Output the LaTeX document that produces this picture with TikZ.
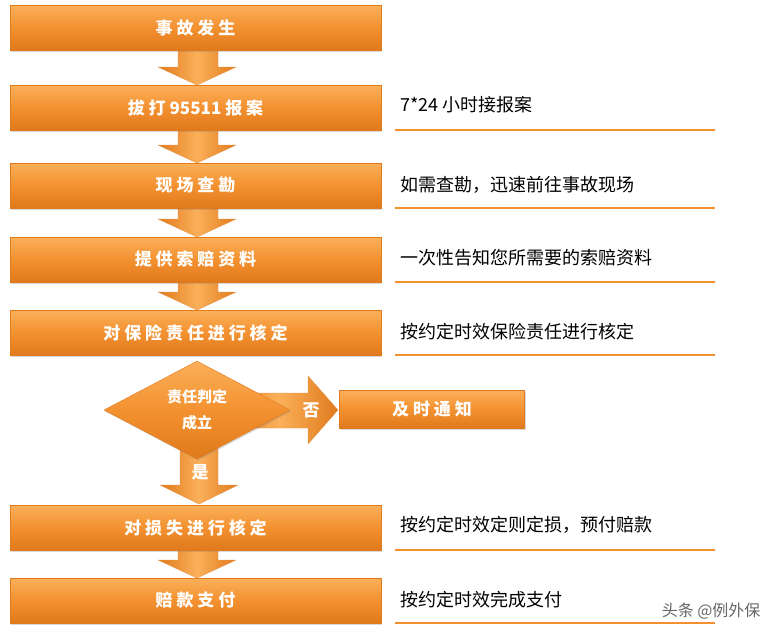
\documentclass[tikz,border=0pt]{standalone}
\usepackage{fontspec}
\setmainfont{Noto Sans CJK SC}
\usetikzlibrary{shapes.geometric,shadows}
\definecolor{org}{HTML}{F39130}
\definecolor{orgl}{HTML}{FBB05A}
\definecolor{orgd}{HTML}{E07A1C}
\tikzset{
 stepbox/.style={draw=orgd,thin,top color=orgl,bottom color=orgd,middle color=org,drop shadow={opacity=0.3,shadow xshift=1pt,shadow yshift=-1.5pt},text=white,font=\bfseries\fontsize{17}{20}\selectfont,inner sep=0pt},
 arr/.style={draw=orgd!80,thin,left color=orgd,right color=orgd,middle color=orgl},
 note/.style={anchor=west,font=\fontsize{18}{21}\selectfont,inner sep=0pt},
 uline/.style={draw=org,line width=1.6pt}
}
\begin{document}
\begin{tikzpicture}[x=1pt,y=-1pt]
\useasboundingbox (0,0) rectangle (771,643);
\foreach \a/\b in {50/85,130/163,208/237,282/310,550/578}{
 \path[arr] (178,\a) -- (218,\a) -- (218,\b-18) -- (236,\b-18) -- (197,\b) -- (158,\b-18) -- (178,\b-18) -- cycle;
}
\path[arr] (220,393) -- (308,393) -- (308,376) -- (338,410) -- (308,444) -- (308,428) -- (220,428) -- cycle;
\path[arr] (180,440) -- (218,440) -- (218,485) -- (238,485) -- (199,504) -- (160,485) -- (180,485) -- cycle;
\node[stepbox,minimum width=371,minimum height=45] (s1) at (195.5,27.5) {事 故 发 生};
\node[stepbox,minimum width=371,minimum height=45] (s2) at (195.5,107.5) {拔 打 95511 报 案};
\node[stepbox,minimum width=371,minimum height=45] (s3) at (195.5,185.5) {现 场 查 勘};
\node[stepbox,minimum width=371,minimum height=45] (s4) at (195.5,259.5) {提 供 索 赔 资 料};
\node[stepbox,minimum width=371,minimum height=45] (s5) at (195.5,332.5) {对 保 险 责 任 进 行 核 定};
\node[stepbox,diamond,aspect=1.9,minimum width=186,minimum height=98,align=center,font=\bfseries\fontsize{15}{26}\selectfont] (d) at (197,410) {责任判定\\成立};
\node[stepbox,minimum width=185,minimum height=38] (n) at (432,409) {及 时 通 知};
\node[stepbox,minimum width=371,minimum height=45] (s6) at (195.5,527.5) {对 损 失 进 行 核 定};
\node[stepbox,minimum width=371,minimum height=45] (s7) at (195.5,600.5) {赔 款 支 付};
\node[text=white,font=\bfseries\fontsize{17}{20}\selectfont] (no) at (311,410) {否};
\node[text=white,font=\bfseries\fontsize{17}{20}\selectfont] (yes) at (200,472) {是};
\foreach \y/\t/\l in {105/{7*24 小时接报案}/130,185/{如需查勘，迅速前往事故现场}/208,258/{一次性告知您所需要的索赔资料}/282,332/{按约定时效保险责任进行核定}/355,525/{按约定时效定则定损，预付赔款}/550,600/{按约定时效完成支付}/623}{
 \node[note] at (400,\y) {\t};
 \draw[uline] (395,\l) -- (715,\l);
}
\node[text=gray!80!black,font=\fontsize{16}{18}\selectfont,anchor=east] (wm) at (764,611) {头条 @例外保};
\end{tikzpicture}
\end{document}
